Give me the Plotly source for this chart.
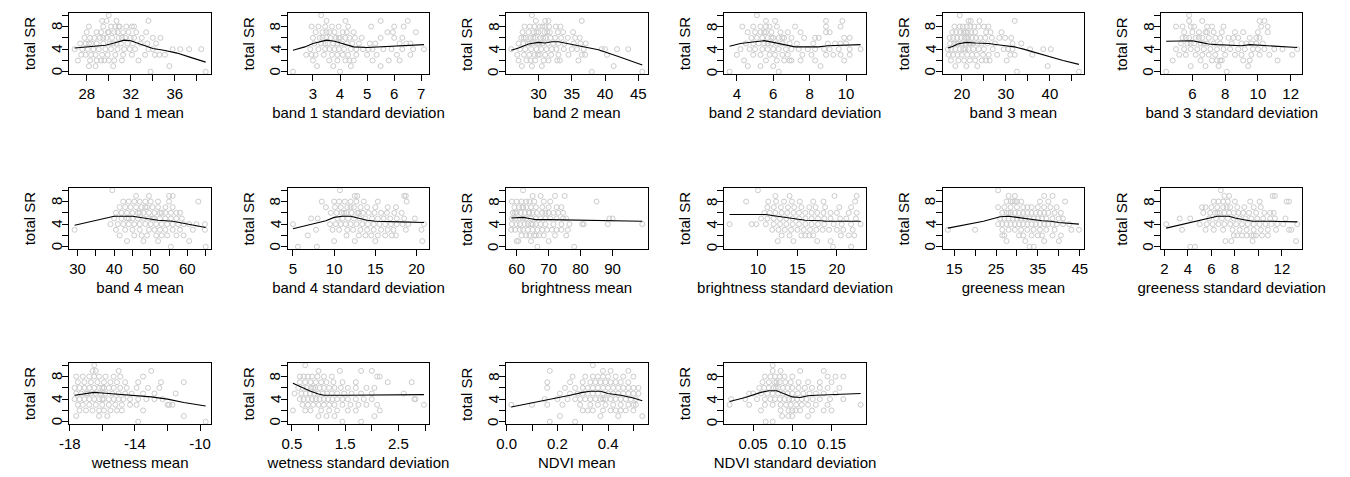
import plotly.graph_objects as go

# total species richness, one value per site (shared by every panel)
total_sr = [0, 0,
            1, 1, 1, 1,
            2, 2, 2, 2, 2, 2, 2, 2, 2,
            3, 3, 3, 3, 3, 3, 3, 3, 3, 3, 3, 3, 3,
            4, 4, 4, 4, 4, 4, 4, 4, 4, 4, 4, 4, 4, 4, 4, 4, 4,
            5, 5, 5, 5, 5, 5, 5, 5, 5, 5, 5, 5, 5, 5, 5,
            6, 6, 6, 6, 6, 6, 6, 6, 6, 6, 6, 6, 6, 6, 6,
            7, 7, 7, 7, 7, 7, 7, 7, 7, 7, 7,
            8, 8, 8, 8, 8, 8, 8, 8, 8,
            9, 9, 9, 9,
            10]

band1_mean = [33.8, 38.8,
              28.2, 28.8, 30.4, 35.5,
              27.2, 28.3, 28.9, 29.3, 30.0, 30.5, 31.2, 32.7, 29.6,
              27.5, 27.9, 28.4, 28.8, 29.4, 29.9, 30.6, 31.3, 32.1, 33.3, 34.2, 34.6, 35.1,
              26.9, 27.6, 28.1, 28.6, 29.1, 29.7, 30.2, 30.8, 31.4, 31.9, 32.4, 33.6, 34.0, 35.8, 36.5, 37.3, 38.4,
              27.4, 27.9, 28.4, 28.9, 29.5, 30.1, 30.7, 31.1, 31.7, 32.2, 32.9, 33.5, 34.3, 28.2, 30.4,
              27.8, 28.3, 28.7, 29.2, 29.8, 30.3, 30.9, 31.5, 32.0, 32.3, 33.0, 34.0, 34.7, 29.5, 31.2,
              28.0, 28.9, 29.3, 29.9, 30.5, 30.8, 31.3, 31.8, 32.5, 33.4, 30.0,
              28.2, 29.5, 30.2, 30.6, 31.0, 31.6, 32.1, 32.3, 30.9,
              29.4, 29.8, 30.7, 33.6,
              30.0]
band1_sd = [2.26, 4.0,
            3.15, 3.75, 4.4, 5.5,
            3.0, 3.6, 3.9, 4.2, 4.35, 4.5, 5.2, 5.8, 6.2,
            2.75, 2.95, 3.1, 3.4, 3.7, 3.9, 4.1, 4.3, 4.6, 5.0, 5.35, 6.1, 6.6,
            2.9, 3.2, 3.45, 3.6, 3.8, 3.95, 4.15, 4.4, 4.6, 4.85, 5.05, 5.2, 5.6, 5.9, 6.3, 6.7, 7.1,
            3.05, 3.3, 3.55, 3.75, 3.9, 4.05, 4.25, 4.45, 4.7, 5.1, 5.3, 6.2, 6.45, 6.6, 3.45,
            3.0, 3.25, 3.5, 3.65, 3.85, 4.0, 4.2, 4.35, 4.55, 4.8, 5.5, 6.0, 6.3, 3.35, 3.95,
            3.1, 3.35, 3.6, 3.8, 4.1, 4.5, 5.75, 5.95, 6.8, 3.5, 4.25,
            2.95, 3.2, 3.45, 3.7, 3.95, 4.3, 5.15, 6.0, 6.35,
            3.5, 5.5, 6.5, 4.2,
            3.3]
band2_mean = [38.0, 45.6,
              27.5, 29.0, 41.3, 30.5,
              27.0, 28.2, 29.5, 30.8, 31.5, 32.8, 33.2, 36.0, 28.8,
              26.8, 27.8, 28.6, 29.4, 30.2, 31.0, 31.9, 33.0, 34.5, 36.5, 37.0, 40.3, 29.9,
              25.9, 27.2, 28.0, 28.9, 29.7, 30.4, 31.2, 32.0, 32.7, 33.8, 35.0, 35.8, 36.8, 39.5, 40.0, 41.8, 43.5,
              27.0, 27.7, 28.4, 29.1, 29.8, 30.6, 31.4, 32.2, 33.0, 33.9, 35.3, 36.3, 37.1, 28.7, 30.1,
              27.4, 28.1, 28.8, 29.5, 30.3, 31.1, 31.8, 32.5, 33.4, 34.4, 35.5, 36.2, 29.2, 30.7, 27.8,
              27.6, 28.5, 29.3, 30.0, 30.9, 31.7, 32.9, 33.7, 35.2, 29.7, 31.3,
              27.9, 28.7, 29.4, 30.2, 31.0, 31.6, 32.6, 33.3, 30.6,
              31.0, 31.5, 36.5, 29.6,
              29.0]
band2_sd = [3.6, 6.3,
            4.6, 8.6, 6.0, 5.3,
            4.4, 5.6, 6.2, 6.6, 6.9, 7.0, 7.5, 8.3, 9.9,
            4.0, 4.9, 5.3, 5.8, 6.1, 6.5, 6.8, 7.6, 8.1, 8.9, 9.3, 9.7, 10.2,
            4.2, 4.7, 5.0, 5.4, 5.7, 6.0, 6.3, 6.7, 7.0, 7.4, 7.9, 8.3, 8.8, 9.1, 9.6, 10.2, 10.8,
            4.5, 4.9, 5.2, 5.5, 5.9, 6.2, 6.5, 6.9, 7.3, 8.2, 9.0, 9.4, 9.7, 10.0, 5.7,
            4.8, 5.1, 5.4, 5.7, 6.0, 6.3, 6.6, 7.0, 8.3, 8.5, 9.9, 10.2, 5.9, 6.5, 7.7,
            4.6, 5.0, 5.3, 5.6, 5.9, 6.4, 6.8, 7.5, 8.9, 9.1, 5.5,
            4.3, 4.9, 5.3, 5.6, 5.8, 6.2, 7.2, 8.9, 9.7,
            5.6, 8.9, 9.8, 6.1,
            5.1]
band3_mean = [32.5, 46.6,
              18.5, 21.0, 39.5, 23.5,
              17.5, 19.2, 20.5, 21.8, 23.0, 24.5, 25.5, 26.3, 30.2,
              17.0, 18.0, 19.0, 20.0, 21.2, 22.3, 23.4, 24.8, 26.1, 28.0, 31.0, 32.0, 36.0,
              16.8, 17.6, 18.5, 19.5, 20.3, 21.5, 22.6, 23.8, 25.0, 27.0, 29.5, 30.5, 31.5, 35.5, 38.5, 40.2, 20.8,
              17.3, 18.2, 19.1, 20.0, 20.8, 21.7, 22.5, 23.5, 24.5, 25.8, 27.5, 31.5, 33.5, 18.7, 22.0,
              17.2, 18.0, 18.9, 19.8, 20.6, 21.4, 22.3, 23.2, 24.2, 25.3, 26.8, 28.5, 29.8, 31.2, 21.0,
              17.8, 18.7, 19.6, 20.4, 21.3, 22.1, 23.0, 25.5, 26.5, 29.0, 20.9,
              18.3, 19.5, 20.2, 21.1, 21.9, 22.8, 23.8, 25.0, 26.0,
              21.5, 24.0, 32.0, 22.0,
              19.5]
band3_sd = [4.4, 8.1,
            5.9, 6.8, 9.4, 7.6,
            4.8, 6.5, 7.2, 7.5, 7.7, 7.8, 9.1, 9.5, 11.2,
            5.2, 5.6, 6.2, 6.6, 7.0, 7.4, 8.0, 8.6, 9.0, 9.6, 10.1, 10.7, 12.1,
            5.0, 5.5, 5.9, 6.3, 6.7, 7.1, 7.5, 7.9, 8.3, 8.8, 9.2, 9.7, 10.0, 10.4, 11.0, 11.5, 12.4,
            5.3, 5.7, 6.1, 6.5, 6.9, 7.3, 7.7, 8.4, 9.0, 9.3, 9.6, 9.9, 10.3, 5.9, 6.7,
            5.4, 5.8, 6.2, 6.6, 7.0, 7.4, 8.2, 8.5, 8.8, 9.5, 10.1, 5.6, 6.4, 7.7, 9.9,
            5.5, 6.0, 6.4, 6.8, 7.3, 7.8, 8.6, 9.1, 10.0, 10.6, 6.9,
            5.0, 5.4, 5.9, 6.1, 6.9, 7.2, 7.9, 10.2, 10.6,
            5.8, 10.1, 10.4, 6.6,
            5.8]
band4_mean = [55.5, 65.0,
              43.5, 60.5, 48.0, 52.0,
              41.5, 45.5, 47.5, 49.0, 51.5, 53.0, 54.5, 57.0, 59.0,
              29.2, 40.5, 43.0, 45.0, 47.0, 49.5, 51.0, 52.5, 54.0, 56.0, 58.0, 61.5, 64.8,
              39.0, 41.0, 42.5, 44.0, 45.5, 47.0, 48.5, 50.0, 51.5, 53.0, 54.5, 56.0, 57.5, 59.0, 60.5, 62.5, 64.8,
              40.0, 42.0, 43.5, 45.0, 46.5, 48.0, 49.5, 51.0, 52.5, 54.0, 55.5, 57.0, 58.5, 44.0, 50.5,
              40.5, 42.0, 43.5, 45.0, 46.5, 48.0, 49.5, 51.0, 52.5, 54.0, 55.5, 57.0, 58.0, 47.0, 53.0,
              41.5, 43.0, 44.5, 46.0, 47.5, 49.0, 50.5, 52.0, 54.0, 56.0, 48.5,
              42.5, 44.0, 45.5, 47.0, 48.5, 50.0, 52.0, 55.0, 63.0,
              46.0, 49.5, 55.0, 56.0,
              39.5]
band4_sd = [5.6, 7.9,
            10.0, 12.5, 20.7, 15.0,
            6.8, 11.5, 13.0, 13.8, 14.5, 15.3, 16.2, 17.0, 17.5,
            7.8, 9.8, 10.6, 11.6, 12.3, 13.2, 14.0, 14.8, 15.7, 16.5, 17.2, 18.7, 20.6,
            5.0, 9.5, 10.2, 10.8, 11.4, 12.0, 12.7, 13.4, 14.1, 14.8, 15.5, 16.2, 16.9, 17.6, 18.3, 19.0, 20.9,
            7.2, 8.0, 10.4, 11.0, 11.7, 12.4, 13.1, 13.8, 14.6, 15.3, 16.0, 16.8, 17.6, 18.5, 19.8,
            9.6, 10.3, 10.9, 11.5, 12.1, 12.8, 13.5, 14.2, 14.9, 15.7, 16.4, 17.3, 18.2, 11.2, 13.0,
            9.0, 10.1, 10.8, 11.6, 12.4, 13.2, 14.0, 15.0, 16.5, 17.5, 12.0,
            8.5, 10.0, 10.6, 11.3, 12.0, 12.7, 13.6, 15.3, 18.8,
            12.5, 12.8, 18.5, 18.7,
            10.7]
brightness_mean = [66.5, 78.0,
                   60.0, 60.5, 64.5, 70.0,
                   61.5, 63.0, 64.0, 65.5, 66.0, 67.0, 68.5, 72.0, 75.5,
                   58.3, 59.5, 61.0, 62.0, 63.5, 65.0, 66.5, 68.0, 69.5, 71.0, 72.5, 74.0, 76.0,
                   58.5, 60.0, 61.0, 62.5, 63.5, 64.5, 66.0, 67.5, 69.0, 71.5, 74.0, 76.5, 80.5, 81.0, 88.5, 99.3, 65.0,
                   58.5, 59.5, 61.0, 62.0, 63.0, 64.5, 66.0, 67.5, 69.0, 70.5, 72.5, 74.5, 89.0, 90.0, 75.5,
                   58.8, 60.0, 61.3, 62.5, 63.8, 65.0, 66.3, 68.0, 70.0, 71.5, 73.0, 59.5, 64.0, 69.0, 74.5,
                   59.3, 60.7, 61.8, 63.0, 64.5, 66.0, 68.0, 70.0, 72.5, 74.0, 62.0,
                   58.5, 60.0, 61.5, 63.0, 64.0, 65.5, 68.5, 70.5, 85.0,
                   65.0, 67.5, 72.0, 75.0,
                   62.0]
brightness_sd = [19.5, 21.8,
                 14.5, 17.5, 19.2, 12.5,
                 13.0, 14.0, 15.5, 16.0, 16.5, 17.0, 20.5, 21.5, 22.2,
                 11.8, 12.6, 13.4, 14.2, 15.0, 15.8, 16.6, 17.4, 18.2, 19.0, 20.0, 20.8, 22.0,
                 6.4, 9.2, 9.8, 11.0, 12.0, 12.8, 13.6, 14.4, 15.2, 16.0, 16.8, 17.6, 18.4, 19.6, 20.6, 21.8, 23.0,
                 10.4, 11.2, 12.0, 12.8, 13.6, 14.4, 15.2, 16.0, 16.8, 17.6, 18.4, 19.2, 20.4, 21.2, 22.4,
                 10.8, 11.5, 12.2, 13.0, 13.7, 14.5, 15.2, 16.0, 16.8, 17.5, 18.3, 19.2, 20.0, 21.5, 22.5,
                 11.2, 12.0, 12.9, 13.8, 14.6, 15.5, 16.5, 17.3, 18.5, 20.3, 21.8,
                 8.5, 11.3, 12.3, 13.3, 14.3, 15.3, 17.0, 18.3, 22.3,
                 12.2, 14.0, 19.7, 22.5,
                 10.0]
greeness_mean = [33.0, 34.0,
                 27.5, 40.0, 32.0, 36.5,
                 27.0, 30.5, 31.5, 33.5, 35.0, 36.0, 38.5, 40.5, 26.5,
                 13.5, 20.0, 26.5, 28.0, 29.5, 31.0, 32.5, 34.0, 35.5, 37.0, 39.0, 43.0, 44.8,
                 25.5, 26.5, 27.5, 28.5, 29.5, 30.5, 31.5, 32.5, 33.5, 34.5, 35.5, 36.5, 37.5, 38.5, 39.5, 41.0, 42.5,
                 26.0, 27.0, 28.0, 29.0, 30.0, 31.0, 32.0, 33.0, 34.0, 35.0, 36.0, 37.0, 38.5, 40.0, 41.0,
                 26.5, 27.5, 28.5, 29.5, 30.5, 31.5, 32.5, 33.5, 34.5, 35.5, 36.5, 37.5, 39.0, 40.5, 28.0,
                 25.5, 27.0, 28.5, 30.0, 31.5, 32.5, 33.5, 35.0, 36.5, 38.0, 39.5,
                 27.5, 28.5, 29.5, 30.0, 31.0, 35.5, 37.5, 41.5, 29.0,
                 29.5, 36.5, 38.5, 28.0,
                 25.5]
greeness_sd = [4.2, 4.6,
               7.2, 7.7, 13.2, 9.5,
               8.2, 8.6, 9.0, 9.4, 9.8, 10.3, 10.8, 7.9, 9.6,
               3.5, 5.5, 6.2, 7.0, 7.8, 8.4, 9.0, 9.6, 10.2, 10.8, 11.5, 12.6, 12.8,
               2.15, 5.0, 5.6, 6.1, 6.6, 7.1, 7.6, 8.1, 8.6, 9.1, 9.6, 10.1, 10.6, 11.1, 11.6, 12.1, 13.3,
               3.3, 4.2, 5.8, 6.4, 6.9, 7.4, 7.9, 8.4, 8.9, 9.4, 9.9, 10.4, 11.0, 11.4, 12.3,
               5.3, 5.9, 6.3, 6.7, 7.1, 7.5, 7.9, 8.3, 8.7, 9.2, 9.8, 10.5, 11.0, 11.3, 6.5,
               5.2, 5.5, 6.5, 7.0, 7.6, 8.2, 8.8, 9.6, 10.2, 6.0, 7.3,
               6.2, 6.6, 7.0, 7.4, 8.0, 9.3, 10.1, 12.4, 12.6,
               7.5, 11.2, 11.4, 7.1,
               6.8]
wetness_mean = [-13.8, -9.66,
                -17.6, -15.7, -11.0, -16.2,
                -17.4, -17.0, -16.6, -16.2, -15.9, -15.5, -15.1, -14.8, -13.5,
                -17.5, -17.2, -16.8, -16.4, -16.0, -15.6, -15.2, -14.8, -14.3, -13.9, -12.0, -11.7, -11.9,
                -17.7, -17.4, -17.1, -16.8, -16.5, -16.2, -15.9, -15.6, -15.3, -15.0, -14.7, -14.3, -13.8, -13.3, -12.8, -12.3, -16.0,
                -17.6, -17.3, -17.0, -16.7, -16.4, -16.1, -15.8, -15.4, -15.0, -14.6, -14.2, -13.5, -12.8, -11.5, -16.9,
                -17.7, -17.4, -17.1, -16.8, -16.5, -16.2, -15.9, -15.6, -15.3, -14.9, -14.5, -13.9, -13.2, -12.5, -16.0,
                -17.5, -17.1, -16.7, -16.3, -15.9, -15.5, -15.1, -14.6, -13.8, -12.4, -11.0,
                -17.6, -17.2, -16.8, -16.5, -16.2, -15.8, -15.3, -14.9, -13.5,
                -16.6, -15.0, -13.0, -16.4,
                -16.5]
wetness_sd = [1.45, 1.8,
              1.0, 1.3, 2.05, 1.15,
              0.52, 0.75, 0.85, 1.05, 1.2, 1.35, 1.55, 1.7, 2.15,
              0.7, 0.8, 0.9, 1.0, 1.1, 1.2, 1.3, 1.45, 1.6, 1.75, 1.9, 2.1, 2.98,
              0.65, 0.72, 0.8, 0.88, 0.95, 1.02, 1.1, 1.18, 1.26, 1.35, 1.45, 1.55, 1.7, 1.85, 2.0, 2.8, 2.82,
              0.55, 0.68, 0.76, 0.84, 0.92, 1.0, 1.08, 1.16, 1.25, 1.35, 1.48, 1.62, 1.8, 2.0, 2.6,
              0.62, 0.7, 0.78, 0.86, 0.94, 1.02, 1.1, 1.2, 1.3, 1.42, 1.55, 1.7, 1.9, 2.05, 0.9,
              0.65, 0.75, 0.85, 0.95, 1.05, 1.15, 1.28, 1.45, 1.7, 2.3, 2.75,
              0.65, 0.72, 0.8, 0.88, 0.98, 1.1, 1.25, 2.1, 2.15,
              1.4, 1.8, 2.0, 1.0,
              0.75]
ndvi_mean = [0.17, 0.27,
             0.21, 0.37, 0.535, 0.44,
             0.3, 0.34, 0.38, 0.41, 0.43, 0.45, 0.47, 0.5, 0.32,
             0.018, 0.1, 0.16, 0.22, 0.29, 0.33, 0.36, 0.39, 0.42, 0.45, 0.48, 0.51, 0.5,
             0.15, 0.2, 0.24, 0.27, 0.29, 0.31, 0.33, 0.35, 0.37, 0.39, 0.41, 0.43, 0.45, 0.47, 0.49, 0.51, 0.38,
             0.21, 0.25, 0.28, 0.3, 0.32, 0.34, 0.36, 0.38, 0.4, 0.42, 0.44, 0.46, 0.48, 0.5, 0.52,
             0.23, 0.27, 0.3, 0.32, 0.34, 0.36, 0.38, 0.4, 0.42, 0.44, 0.46, 0.48, 0.5, 0.52, 0.16,
             0.16, 0.25, 0.3, 0.33, 0.35, 0.37, 0.39, 0.41, 0.43, 0.45, 0.48,
             0.26, 0.31, 0.34, 0.36, 0.38, 0.4, 0.43, 0.46, 0.5,
             0.17, 0.38, 0.48, 0.41,
             0.34]
ndvi_sd = [0.066, 0.075,
           0.087, 0.1, 0.12, 0.095,
           0.06, 0.085, 0.095, 0.1, 0.104, 0.11, 0.125, 0.14, 0.15,
           0.02, 0.045, 0.065, 0.075, 0.085, 0.092, 0.098, 0.105, 0.112, 0.12, 0.13, 0.145, 0.187,
           0.022, 0.04, 0.055, 0.065, 0.072, 0.078, 0.084, 0.09, 0.096, 0.1, 0.106, 0.112, 0.118, 0.126, 0.135, 0.148, 0.165,
           0.05, 0.06, 0.068, 0.075, 0.082, 0.088, 0.094, 0.1, 0.107, 0.114, 0.122, 0.13, 0.14, 0.155, 0.045,
           0.058, 0.064, 0.07, 0.076, 0.082, 0.088, 0.094, 0.1, 0.108, 0.116, 0.125, 0.135, 0.145, 0.16, 0.079,
           0.062, 0.07, 0.077, 0.084, 0.091, 0.098, 0.108, 0.12, 0.135, 0.15, 0.08,
           0.065, 0.072, 0.078, 0.084, 0.09, 0.1, 0.145, 0.155, 0.165,
           0.075, 0.085, 0.11, 0.14,
           0.075]

# smoothed (lowess) curves
band1_mean_fit = ([26.9, 28, 29.7, 30.5, 31.4, 32, 33, 34, 35, 36.2, 37.5, 38.8],
                  [4.2, 4.4, 4.7, 5.1, 5.6, 5.5, 4.8, 4.1, 3.8, 3.3, 2.5, 1.7])
band1_sd_fit = ([2.26, 2.7, 3.0, 3.5, 3.8, 4.0, 4.5, 5.0, 5.5, 6.0, 6.5, 7.1],
                [3.8, 4.4, 5.0, 5.6, 5.4, 5.1, 4.4, 4.3, 4.4, 4.5, 4.7, 4.8])
band2_mean_fit = ([25.9, 27, 28.5, 30, 31, 32, 33, 35, 37, 39, 42, 45.6],
                  [3.8, 4.2, 4.9, 5.2, 5.1, 5.3, 5.3, 4.8, 4.3, 3.9, 2.7, 1.2])
band2_sd_fit = ([3.6, 4.2, 5.0, 5.5, 6.0, 6.5, 7.2, 8.0, 8.5, 9.0, 10.0, 10.8],
                [4.5, 5.0, 5.3, 5.5, 5.2, 4.9, 4.4, 4.4, 4.4, 4.6, 4.7, 4.8])
band3_mean_fit = ([16.8, 18, 19, 21, 23, 26, 29, 32, 34, 37, 40, 43, 46.6],
                  [4.2, 4.5, 4.9, 5.2, 5.1, 5.0, 4.7, 4.4, 4.0, 3.3, 2.7, 2.0, 1.3])
band3_sd_fit = ([4.4, 5.3, 6.0, 6.5, 7.0, 7.5, 8.0, 8.5, 9.0, 9.5, 10.0, 11.0, 12.4],
                [5.4, 5.5, 5.5, 5.2, 4.9, 4.8, 4.7, 4.6, 4.6, 4.8, 4.7, 4.5, 4.3])
band4_mean_fit = ([29.2, 35, 40, 45, 48, 52, 56, 60, 65],
                  [3.8, 4.6, 5.4, 5.4, 5.1, 4.7, 4.5, 4.0, 3.4])
band4_sd_fit = ([5.0, 7, 9, 10, 11, 12, 13, 14, 15, 16.5, 18, 20.9],
                [3.2, 3.9, 4.6, 5.2, 5.4, 5.4, 5.0, 4.7, 4.5, 4.5, 4.4, 4.3])
brightness_mean_fit = ([58.3, 60, 62, 64, 66, 70, 80, 90, 99.3],
                       [5.1, 5.1, 5.2, 5.0, 4.8, 4.8, 4.7, 4.6, 4.5])
brightness_sd_fit = ([6.4, 10, 11, 12, 13, 14, 15, 16, 18, 18.5, 23],
                     [5.7, 5.7, 5.7, 5.5, 5.3, 5.1, 4.8, 4.7, 4.6, 4.5, 4.5])
greeness_mean_fit = ([13.5, 18, 22, 26, 28, 30, 32, 34, 36, 38, 40, 44.8],
                     [3.3, 3.9, 4.5, 5.3, 5.4, 5.2, 5.0, 4.7, 4.6, 4.5, 4.3, 4.0])
greeness_sd_fit = ([2.15, 3, 4, 5, 6, 6.5, 7.5, 8, 9, 9.5, 11, 12, 13.3],
                   [3.3, 3.7, 4.2, 4.6, 5.1, 5.4, 5.4, 5.1, 4.7, 4.5, 4.5, 4.4, 4.4])
wetness_mean_fit = ([-17.7, -17, -16.5, -16, -15, -14, -13, -12, -11, -9.66],
                    [4.7, 5.0, 5.2, 5.1, 4.9, 4.6, 4.4, 4.0, 3.4, 2.8])
wetness_sd_fit = ([0.52, 0.7, 0.85, 1.0, 1.1, 1.5, 1.9, 2.0, 2.5, 2.98],
                  [6.8, 6.0, 5.4, 4.9, 4.7, 4.7, 4.7, 4.8, 4.8, 4.8])
ndvi_mean_fit = ([0.018, 0.1, 0.2, 0.25, 0.3, 0.33, 0.37, 0.4, 0.45, 0.5, 0.535],
                 [2.6, 3.3, 4.2, 4.7, 5.2, 5.4, 5.4, 5.0, 4.7, 4.2, 3.7])
ndvi_sd_fit = ([0.02, 0.04, 0.06, 0.07, 0.08, 0.09, 0.1, 0.11, 0.12, 0.13, 0.15, 0.187],
               [3.6, 4.3, 5.2, 5.5, 5.5, 5.0, 4.4, 4.3, 4.6, 4.7, 4.8, 5.0])

# x-axis tick positions and the labels R managed to print
band1_mean_ticks = ([28, 30, 32, 34, 36, 38], ["28", "", "32", "", "36", ""])
band1_sd_ticks = ([3, 4, 5, 6, 7], ["3", "4", "5", "6", "7"])
band2_mean_ticks = ([30, 35, 40, 45], ["30", "35", "40", "45"])
band2_sd_ticks = ([4, 6, 8, 10], ["4", "6", "8", "10"])
band3_mean_ticks = ([20, 25, 30, 35, 40, 45], ["20", "", "30", "", "40", ""])
band3_sd_ticks = ([6, 8, 10, 12], ["6", "8", "10", "12"])
band4_mean_ticks = ([30, 35, 40, 45, 50, 55, 60, 65], ["30", "", "40", "", "50", "", "60", ""])
band4_sd_ticks = ([5, 10, 15, 20], ["5", "10", "15", "20"])
brightness_mean_ticks = ([60, 70, 80, 90], ["60", "70", "80", "90"])
brightness_sd_ticks = ([10, 15, 20], ["10", "15", "20"])
greeness_mean_ticks = ([15, 20, 25, 30, 35, 40, 45], ["15", "", "25", "", "35", "", "45"])
greeness_sd_ticks = ([2, 4, 6, 8, 10, 12], ["2", "4", "6", "8", "", "12"])
wetness_mean_ticks = ([-18, -16, -14, -12, -10], ["-18", "", "-14", "", "-10"])
wetness_sd_ticks = ([0.5, 1.0, 1.5, 2.0, 2.5, 3.0], ["0.5", "", "1.5", "", "2.5", ""])
ndvi_mean_ticks = ([0.0, 0.1, 0.2, 0.3, 0.4, 0.5], ["0.0", "", "0.2", "", "0.4", ""])
ndvi_sd_ticks = ([0.05, 0.10, 0.15], ["0.05", "0.10", "0.15"])

y_tickvals = [0, 2, 4, 6, 8, 10]
y_labels = ["0", "4", "8"]
y_title = "total SR"

panels = [
    ("band 1 mean", band1_mean, band1_mean_fit, band1_mean_ticks),
    ("band 1 standard deviation", band1_sd, band1_sd_fit, band1_sd_ticks),
    ("band 2 mean", band2_mean, band2_mean_fit, band2_mean_ticks),
    ("band 2 standard deviation", band2_sd, band2_sd_fit, band2_sd_ticks),
    ("band 3 mean", band3_mean, band3_mean_fit, band3_mean_ticks),
    ("band 3 standard deviation", band3_sd, band3_sd_fit, band3_sd_ticks),
    ("band 4 mean", band4_mean, band4_mean_fit, band4_mean_ticks),
    ("band 4 standard deviation", band4_sd, band4_sd_fit, band4_sd_ticks),
    ("brightness mean", brightness_mean, brightness_mean_fit, brightness_mean_ticks),
    ("brightness standard deviation", brightness_sd, brightness_sd_fit, brightness_sd_ticks),
    ("greeness mean", greeness_mean, greeness_mean_fit, greeness_mean_ticks),
    ("greeness standard deviation", greeness_sd, greeness_sd_fit, greeness_sd_ticks),
    ("wetness mean", wetness_mean, wetness_mean_fit, wetness_mean_ticks),
    ("wetness standard deviation", wetness_sd, wetness_sd_fit, wetness_sd_ticks),
    ("NDVI mean", ndvi_mean, ndvi_mean_fit, ndvi_mean_ticks),
    ("NDVI standard deviation", ndvi_sd, ndvi_sd_fit, ndvi_sd_ticks),
]

for name, xs, fit, ticks in panels:
    if len(xs) != len(total_sr):
        raise ValueError(f"{name}: {len(xs)} values, expected {len(total_sr)}")

W, H = 1350, 477
FONT = "Liberation Sans, Arial, Helvetica, sans-serif"
FS = 15
BOX_W, BOX_H = 143, 61
COL_STEP, ROW_STEP = 220.6, 175
LEFT0, TOP0 = 60, 13


def r_range(vals):
    # R's default 4% extension of the data range
    lo, hi = min(vals), max(vals)
    pad = (hi - lo) * 0.04
    return [lo - pad, hi + pad]


fig = go.Figure()
layout = dict(width=W, height=H, margin=dict(l=0, r=0, t=0, b=0),
              paper_bgcolor="white", plot_bgcolor="white", showlegend=False,
              font=dict(family=FONT, color="black", size=FS))
annotations = []
txt_font = dict(size=FS, family=FONT, color="black")

for i, (name, xs, fit, ticks) in enumerate(panels):
    row, col = divmod(i, 6)
    sfx = "" if i == 0 else str(i + 1)
    left = LEFT0 + COL_STEP * col
    top = TOP0 + ROW_STEP * row
    xdom = [left / W, (left + BOX_W) / W]
    ydom = [1 - (top + BOX_H) / H, 1 - top / H]

    fig.add_trace(go.Scatter(x=xs, y=total_sr, mode="markers", xaxis="x" + sfx, yaxis="y" + sfx,
                             marker=dict(symbol="circle-open", size=5, color="#cbcbcb",
                                         line=dict(width=1, color="#cbcbcb")),
                             hoverinfo="x+y"))
    fig.add_trace(go.Scatter(x=fit[0], y=fit[1], mode="lines", xaxis="x" + sfx, yaxis="y" + sfx,
                             line=dict(color="black", width=1.1), hoverinfo="skip"))

    axis_common = dict(showline=True, mirror=True, linecolor="black", linewidth=1,
                       showgrid=False, zeroline=False, ticks="outside", ticklen=6,
                       tickcolor="black", tickwidth=1, tickfont=dict(size=FS, family=FONT))
    layout["xaxis" + sfx] = dict(axis_common, domain=xdom, anchor="y" + sfx,
                                 range=r_range(list(xs) + list(fit[0])),
                                 tickmode="array", tickvals=ticks[0], ticktext=ticks[1],
                                 title=dict(text=name, font=dict(size=FS, family=FONT), standoff=6))
    layout["yaxis" + sfx] = dict(axis_common, domain=ydom, anchor="x" + sfx,
                                 range=[-0.4, 10.4], showticklabels=False,
                                 tickmode="array", tickvals=y_tickvals)
    # R draws the y labels parallel to the axis, so place them (and the title) rotated by hand
    for lab in y_labels:
        annotations.append(dict(text=lab, x=(left - 13) / W, xref="paper",
                                y=float(lab), yref="y" + sfx, textangle=-90,
                                xanchor="center", yanchor="middle", showarrow=False,
                                font=txt_font))
    annotations.append(dict(text=y_title, x=(left - 40) / W, xref="paper",
                            y=sum(ydom) / 2, yref="paper", textangle=-90,
                            xanchor="center", yanchor="middle", showarrow=False,
                            font=txt_font))

layout["annotations"] = annotations
fig.update_layout(**layout)
# the default page body has an 8px margin; drop it so the figure sits at the window origin
fig.write_html("out.html", config={"displayModeBar": False},
               post_script="document.body.style.margin = '0px';")
